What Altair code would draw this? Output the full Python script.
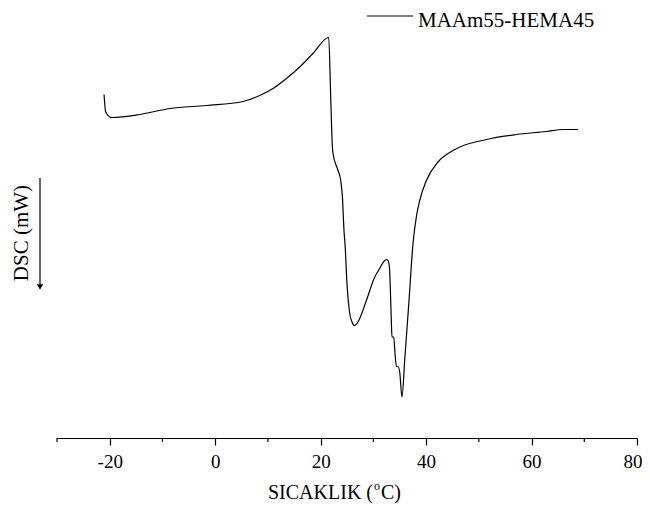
import altair as alt
import pandas as pd

# DSC trace (temperature in degC, DSC in arbitrary mW units)
temp = [-21.08, -20.76, -19.68, -14.31, -8.62, -1.66, 5.28, 8.45, 10.97, 13.51,
        16.03, 18.55, 21.53, 21.91, 22.23, 22.35, 23.30, 23.81, 24.13, 24.43,
        24.70, 24.89, 25.52, 25.95, 26.46, 26.90, 27.41, 28.68, 30.26, 31.20,
        32.15, 32.48, 32.78, 33.05, 33.23, 33.42, 33.53, 33.86, 34.11, 34.37,
        34.68, 35.00, 35.43, 35.94, 36.76, 37.52, 38.15, 38.79, 40.06, 42.26,
        45.10, 51.44, 57.13, 62.82, 65.97, 68.81]
dsc = [6.87, 6.52, 6.41, 6.47, 6.59, 6.65, 6.73, 6.85, 6.99, 7.19,
       7.42, 7.69, 8.01, 6.82, 5.82, 5.69, 5.35, 5.15, 4.82, 4.15,
       3.75, 3.29, 2.49, 2.32, 2.25, 2.29, 2.39, 2.75, 3.22, 3.39,
       3.55, 3.57, 3.55, 3.42, 2.95, 2.29, 2.02, 2.02, 1.69, 1.43,
       1.43, 1.32, 0.82, 1.55, 2.75, 3.89, 4.42, 4.75, 5.15, 5.52,
       5.75, 5.97, 6.07, 6.13, 6.17, 6.17]

major_ticks = [-20, 0, 20, 40, 60, 80]
minor_ticks = [-30, -10, 10, 30, 50, 70]
series_name = "MAAm55-HEMA45"
x_title_main = "SICAKLIK ("
x_title_sup = "o"
x_title_end = "C)"
y_title = "DSC (mW)"

FONT = "Liberation Serif"
W, H = 580, 425

df = pd.DataFrame({"temp": temp, "dsc": dsc})
one = pd.DataFrame({"k": [0]})

xscale = alt.Scale(domain=[-30, 80], nice=False, zero=False)
yscale = alt.Scale(domain=[0, 8.5], nice=False, zero=False)

line = alt.Chart(df).mark_line(color="black", strokeWidth=1.2, interpolate="monotone").encode(
    x=alt.X("temp:Q", scale=xscale,
            axis=alt.Axis(values=major_ticks, title=None, grid=False, domainColor="black",
                          domainWidth=1.2, tickColor="black", tickWidth=1.2, tickSize=7,
                          labelFont=FONT, labelFontSize=19, labelColor="black",
                          labelPadding=7, labelExpr="datum.value + ''",
                          labelFlush=True, labelFlushOffset=5)),
    y=alt.Y("dsc:Q", scale=yscale, axis=None),
    order="idx:Q",
).transform_window(idx="row_number()")

minor = alt.Chart(pd.DataFrame({"m": minor_ticks})).mark_rule(color="black", strokeWidth=1.2).encode(
    x=alt.X("m:Q", scale=xscale),
    y=alt.value(H),
    y2=alt.value(H + 4),
)

leg_line = alt.Chart(one).mark_rule(color="black", strokeWidth=1.2).encode(
    x=alt.value(310), x2=alt.value(356), y=alt.value(3)
)
leg_text = alt.Chart(one).mark_text(font=FONT, fontSize=21, align="left", baseline="alphabetic",
                                    color="black").encode(
    x=alt.value(361), y=alt.value(14), text=alt.value(series_name)
)

ytitle = alt.Chart(one).mark_text(font=FONT, fontSize=21, angle=270, align="center",
                                  baseline="middle", color="black").encode(
    x=alt.value(-35), y=alt.value(220), text=alt.value(y_title)
)
arrow = alt.Chart(one).mark_rule(color="black", strokeWidth=1.2).encode(
    x=alt.value(-17), y=alt.value(165), y2=alt.value(272)
)
arrow_head = alt.Chart(one).mark_point(shape="triangle-down", filled=True, color="black",
                                       size=40, opacity=1).encode(
    x=alt.value(-17), y=alt.value(274)
)

xt1 = alt.Chart(one).mark_text(font=FONT, fontSize=20, align="right", baseline="alphabetic",
                               color="black").encode(
    x=alt.value(316), y=alt.value(486), text=alt.value(x_title_main)
)
xt2 = alt.Chart(one).mark_text(font=FONT, fontSize=12, align="left", baseline="alphabetic",
                               color="black").encode(
    x=alt.value(317), y=alt.value(477), text=alt.value(x_title_sup)
)
xt3 = alt.Chart(one).mark_text(font=FONT, fontSize=20, align="left", baseline="alphabetic",
                               color="black").encode(
    x=alt.value(324), y=alt.value(486), text=alt.value(x_title_end)
)

chart = alt.layer(line, minor, leg_line, leg_text, ytitle, arrow, arrow_head, xt1, xt2, xt3).properties(
    width=W, height=H,
    autosize=alt.AutoSizeParams(type="none"),
    padding={"left": 49, "top": 5, "right": 5, "bottom": 66},
).configure_view(stroke=None)

chart.save("out.html", embed_options={"renderer": "svg", "actions": False})
